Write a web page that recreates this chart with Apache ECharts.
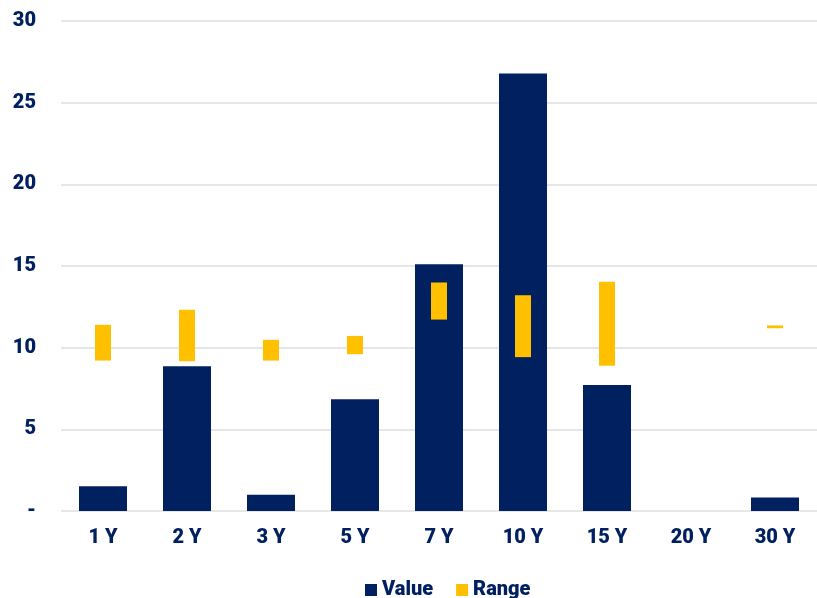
<!DOCTYPE html>
<html>
<head>
<meta charset="utf-8">
<script src="https://cdn.jsdelivr.net/npm/echarts@6/dist/echarts.min.js"></script>
<style>
html,body{margin:0;padding:0;background:#fff;}
#main{width:817px;height:598px;}
</style>
</head>
<body>
<div id="main"></div>
<script>
var categories = ['1 Y', '2 Y', '3 Y', '5 Y', '7 Y', '10 Y', '15 Y', '20 Y', '30 Y'];
var values = [1.51, 8.86, 1.0, 6.84, 15.11, 26.78, 7.72, 0, 0.82];
// range low / high, null where no range
var rangeLow = [9.21, 9.17, 9.21, 9.60, 11.72, 9.42, 8.90, null, 11.19];
var rangeHigh = [11.40, 12.32, 10.48, 10.72, 13.99, 13.21, 14.03, null, 11.36];

var navy = '#002060';
var gold = '#FFC000';

var rangeSize = rangeHigh.map(function (h, i) {
    return h == null ? null : +(h - rangeLow[i]).toFixed(2);
});

var myChart = echarts.init(document.getElementById('main'));
var option = {
    animation: false,
    textStyle: { fontFamily: 'Roboto' },
    grid: { left: 61, right: -4, top: 21, bottom: 87 },
    legend: {
        data: ['Value', 'Range'],
        top: 575,
        left: 360,
        itemWidth: 12,
        itemHeight: 12,
        itemGap: 23,
        icon: 'rect',
        textStyle: { color: navy, fontSize: 20, fontWeight: 900, fontFamily: 'Roboto' }
    },
    xAxis: [
        {
            type: 'category',
            data: categories,
            axisLine: { show: false },
            axisTick: { show: false },
            axisLabel: { color: navy, fontSize: 20, fontWeight: 900, margin: 17 }
        },
        {
            type: 'category',
            data: categories,
            show: false
        }
    ],
    yAxis: {
        type: 'value',
        min: 0,
        max: 30,
        interval: 5,
        axisLine: { show: false },
        axisTick: { show: false },
        axisLabel: {
            color: navy, fontSize: 20, fontWeight: 900, margin: 25,
            formatter: function (v) { return v === 0 ? '-' : v; }
        },
        splitLine: { lineStyle: { color: '#e6e6e6', width: 2 } }
    },
    series: [
        {
            name: 'Value',
            type: 'bar',
            xAxisIndex: 0,
            barWidth: 48,
            itemStyle: { color: navy },
            data: values
        },
        {
            name: 'base',
            type: 'bar',
            xAxisIndex: 1,
            stack: 'range',
            barWidth: 16,
            itemStyle: { color: 'transparent' },
            silent: true,
            data: rangeLow
        },
        {
            name: 'Range',
            type: 'bar',
            xAxisIndex: 1,
            stack: 'range',
            barWidth: 16,
            itemStyle: { color: gold },
            data: rangeSize
        }
    ]
};
myChart.setOption(option);
</script>
</body>
</html>
